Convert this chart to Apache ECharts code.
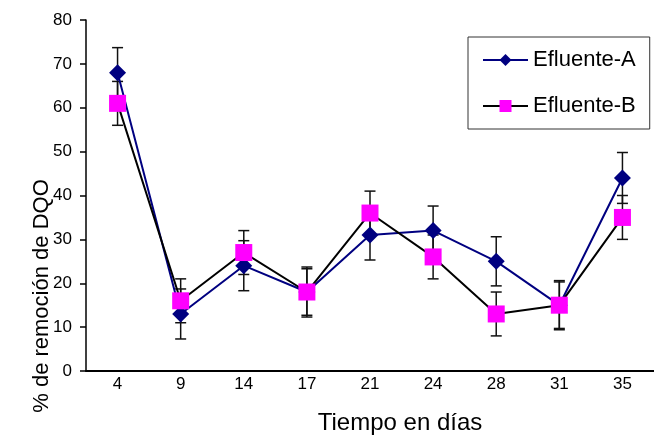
<!DOCTYPE html>
<html>
	<head>
		<meta charset="utf-8">
		<script src="https://cdn.jsdelivr.net/npm/echarts@6/dist/echarts.min.js"></script>
		<title></title>
		<style>
			html, body { margin: 0; padding: 0; background: #fff; }
		</style>
	</head>
	<body>
		<div id="main" style="width: 654px;height:436px;"></div>
		<script type="text/javascript">
			// datos
			var dias = ['4', '9', '14', '17', '21', '24', '28', '31', '35'];
			var efluenteA = [68, 13, 24, 18, 31, 32, 25, 15, 44];
			var errorA = [5.7, 5.7, 5.7, 5.7, 5.7, 5.6, 5.6, 5.6, 5.8];
			var efluenteB = [61, 16, 27, 18, 36, 26, 13, 15, 35];
			var errorB = [5, 5, 5, 5.3, 5, 5, 5, 5.3, 5];
			var yTicks = [0, 80, 10];

			var fuente = 'Liberation Sans, Arial, sans-serif';

			function barras(valores, errores) {
				return valores.map(function(v, i) {
					return [i, v - errores[i], v + errores[i]];
				});
			}

			function dibujaError(params, api) {
				var x = api.value(0);
				var bajo = api.coord([x, api.value(1)]);
				var alto = api.coord([x, api.value(2)]);
				var w = 5.5;
				var estilo = { stroke: '#111', lineWidth: 1.5 };
				return {
					type: 'group',
					children: [
						{ type: 'line', shape: { x1: bajo[0], y1: bajo[1], x2: alto[0], y2: alto[1] }, style: estilo },
						{ type: 'line', shape: { x1: alto[0] - w, y1: alto[1], x2: alto[0] + w, y2: alto[1] }, style: estilo },
						{ type: 'line', shape: { x1: bajo[0] - w, y1: bajo[1], x2: bajo[0] + w, y2: bajo[1] }, style: estilo }
					]
				};
			}

			var myChart = echarts.init(document.getElementById('main'));

			var option = {
				animation: false,
				backgroundColor: '#fff',
				grid: {
					left: 86,
					top: 20,
					width: 576,
					height: 351
				},
				legend: {
					orient: 'vertical',
					left: 468,
					top: 37,
					padding: [12, 14, 12, 14],
					itemGap: 24,
					itemWidth: 45,
					itemHeight: 15,
					borderColor: '#333',
					borderWidth: 1,
					textStyle: { fontFamily: fuente, fontSize: 22, color: '#000' },
					data: ['Efluente-A', 'Efluente-B']
				},
				xAxis: {
					type: 'category',
					data: dias,
					boundaryGap: true,
					axisLine: { lineStyle: { color: '#000', width: 2 } },
					axisTick: { length: 5, lineStyle: { color: '#000', width: 1.5 } },
					axisLabel: { color: '#000', fontFamily: fuente, fontSize: 17, margin: 5 },
					splitLine: { show: false }
				},
				yAxis: {
					type: 'value',
					min: yTicks[0],
					max: yTicks[1],
					interval: yTicks[2],
					axisLine: { show: true, lineStyle: { color: '#000', width: 1.5 } },
					axisTick: { show: true, length: 6, lineStyle: { color: '#000', width: 1.5 } },
					axisLabel: { color: '#000', fontFamily: fuente, fontSize: 17, margin: 14 },
					splitLine: { show: false }
				},
				graphic: [
					{
						type: 'text',
						x: 42,
						y: 296,
						rotation: Math.PI / 2,
						style: {
							text: '% de remoción de DQO',
							fontFamily: fuente,
							fontSize: 22,
							fill: '#000',
							align: 'center',
							verticalAlign: 'middle'
						}
					},
					{
						type: 'text',
						x: 400,
						y: 423,
						style: {
							text: 'Tiempo en días',
							fontFamily: fuente,
							fontSize: 24,
							fill: '#000',
							align: 'center',
							verticalAlign: 'middle'
						}
					}
				],
				series: [
					{
						type: 'custom',
						name: 'errA',
						renderItem: dibujaError,
						data: barras(efluenteA, errorA),
						z: 1,
						silent: true
					},
					{
						type: 'custom',
						name: 'errB',
						renderItem: dibujaError,
						data: barras(efluenteB, errorB),
						z: 1,
						silent: true
					},
					{
						name: 'Efluente-A',
						type: 'line',
						data: efluenteA,
						symbol: 'diamond',
						symbolSize: 17,
						itemStyle: { color: '#000080' },
						lineStyle: { color: '#000080', width: 2 },
						z: 3
					},
					{
						name: 'Efluente-B',
						type: 'line',
						data: efluenteB,
						symbol: 'rect',
						symbolSize: 17,
						itemStyle: { color: '#FF00FF' },
						lineStyle: { color: '#000', width: 2 },
						z: 4
					}
				]
			};

			myChart.setOption(option);
		</script>
	</body>
</html>
